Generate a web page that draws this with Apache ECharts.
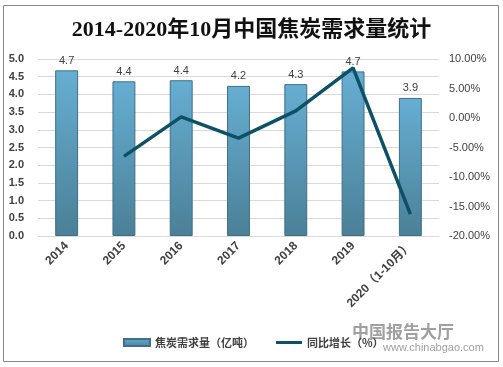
<!DOCTYPE html>
<html><head><meta charset="utf-8">
<script src="https://cdn.jsdelivr.net/npm/echarts@6/dist/echarts.min.js"></script>
<style>html,body{margin:0;padding:0;background:#fff;}#c{width:503px;height:367px;}</style>
</head><body><div id="c"></div>
<script>
const categories = ['2014','2015','2016','2017','2018','2019','2020（1-10月）'];
const demand = [4.68, 4.37, 4.40, 4.24, 4.29, 4.65, 3.90];
const growth = [null, -6.5, 0.2, -3.4, 1.2, 8.5, -16.3];
const leftTicks = [0, 5, 0.5];
const rightTicks = [-20, 10, 5];

const chart = echarts.init(document.getElementById('c'), null, {renderer:'canvas'});
chart.setOption({
  animation:false,
  backgroundColor:'#fff',
  title:{text:'2014-2020年10月中国焦炭需求量统计', left:'center', top:14,
    textStyle:{fontFamily:'Liberation Serif, Noto Sans CJK SC', fontWeight:'bold', fontSize:22, color:'#111'}},
  graphic:[
    {type:'rect', shape:{x:3.5,y:5.5,width:495,height:356}, style:{fill:'none', stroke:'#888', lineWidth:1}, z:-1},
    {type:'text', left:352, top:323, style:{text:'中国报告大厅', fill:'#a0a0a0', font:'bold 17px "Noto Sans CJK SC"'}},
    {type:'text', left:383, top:342, style:{text:'www.chinabgao.com', fill:'#a0a0a0', font:'11px "Liberation Sans"'}}
  ],
  legend:{bottom:14, left:118, itemGap:22, itemWidth:26, itemHeight:7,
    textStyle:{fontFamily:'Noto Sans CJK SC', fontSize:11, color:'#404040', fontWeight:'bold'},
    data:[{name:'焦炭需求量（亿吨）', icon:'rect'},
          {name:'同比增长（%）', icon:'path://M0,0h26v3h-26z', symbolKeepAspect:true}]},
  grid:{left:38, right:64, top:59, bottom:131, containLabel:false},
  xAxis:{type:'category', data:categories,
    axisLine:{show:true, lineStyle:{color:'#d9d9d9'}}, axisTick:{show:false},
    axisLabel:{rotate:45, fontSize:12, fontWeight:'bold', color:'#404040', fontFamily:'Liberation Sans, Noto Sans CJK SC', margin:8, interval:0}},
  yAxis:[
    {type:'value', min:leftTicks[0], max:leftTicks[1], interval:leftTicks[2],
      axisLine:{show:false}, axisTick:{show:false},
      splitLine:{lineStyle:{color:'#d9d9d9'}},
      axisLabel:{formatter:v=>v.toFixed(1), fontSize:11, fontWeight:'bold', color:'#404040', fontFamily:'Liberation Sans', margin:14}},
    {type:'value', min:rightTicks[0], max:rightTicks[1], interval:rightTicks[2],
      axisLine:{show:false}, axisTick:{show:false}, splitLine:{show:false},
      axisLabel:{formatter:v=>v.toFixed(2)+'%', fontSize:11, color:'#404040', fontFamily:'Liberation Sans', margin:10}}
  ],
  series:[
    {name:'焦炭需求量（亿吨）', type:'bar', data:demand, barWidth:'40%', yAxisIndex:0,
      itemStyle:{color:new echarts.graphic.LinearGradient(0,0,0,1,[{offset:0,color:'#66aed2'},{offset:1,color:'#4b8097'}]),
        borderColor:'#3f6f86', borderWidth:1},
      label:{show:true, position:'top', formatter:p=>p.value.toFixed(1), fontSize:11, color:'#404040', fontFamily:'Liberation Sans', distance:4}},
    {name:'同比增长（%）', type:'line', data:growth, yAxisIndex:1, symbol:'none',
      lineStyle:{color:'#0d5166', width:3.5}, itemStyle:{color:'#0d5166'}}
  ]
});
</script></body></html>
